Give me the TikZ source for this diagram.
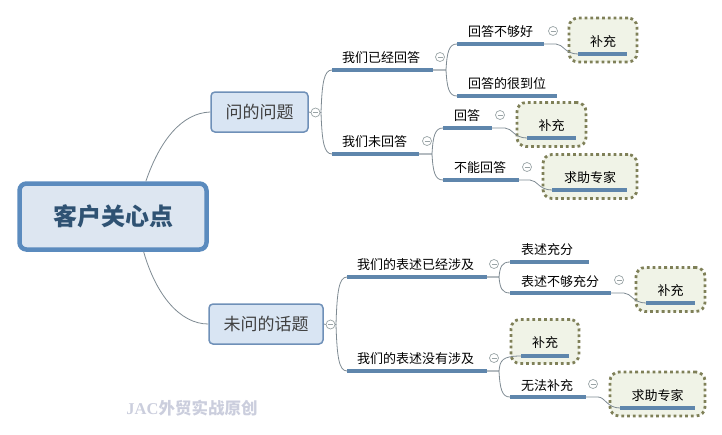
\documentclass[tikz,border=0pt]{standalone}
\usepackage{fontspec}
\setmainfont{Noto Sans CJK SC}
\newfontfamily\stampfont{Liberation Serif}
\usetikzlibrary{calc}
\definecolor{rootblue}{HTML}{5B8BBE}
\definecolor{rootfill}{HTML}{DDE6F1}
\definecolor{rootink}{HTML}{2F5273}
\definecolor{subblue}{HTML}{6F90B8}
\definecolor{subfill}{HTML}{D9E5F3}
\definecolor{barblue}{HTML}{5F86AC}
\definecolor{linkgray}{HTML}{7E8A92}
\definecolor{foldgray}{HTML}{9AA4A6}
\definecolor{noteolive}{HTML}{7F8058}
\definecolor{notefill}{HTML}{F0F3E7}
\definecolor{stampgray}{HTML}{CBCEDD}
\tikzset{
  % For the centre box.
  root/.style={
    draw=rootblue,
    fill=rootfill,
    line width=4.5pt,
    rounded corners=7pt,
    minimum width=187pt,
    minimum height=66pt,
    inner sep=0pt,
    text=rootink,
    text height=19pt,
    text depth=2pt,
    font=\fontsize{24}{28}\selectfont\bfseries},
%
  % For the two main questions.
  subject/.style={
    draw=subblue,
    fill=subfill,
    line width=1.5pt,
    rounded corners=4pt,
    minimum height=40pt,
    inner sep=0pt,
    text=black!75,
    font=\fontsize{17}{20}\selectfont},
%
  % For plain topic texts.
  topic/.style={
    anchor=west,
    yshift=-1pt,
    inner sep=0pt,
    font=\fontsize{13}{15}\selectfont},
%
  % For the thick line under a topic.
  bar/.style={
    fill=barblue,
    minimum width=#1,
    minimum height=3.2pt,
    inner sep=0pt,
    outer sep=0pt},
%
  % For floating topics.
  note/.style={
    draw=noteolive,
    fill=notefill,
    line width=2.8pt,
    dash pattern=on 2.8pt off 3pt,
    rounded corners=9pt,
    minimum height=44pt,
    inner sep=0pt,
    text height=14pt,
    text depth=1.5pt,
    font=\fontsize{13}{15}\selectfont},
%
  % For the collapse marks.
  fold/.style={
    draw=foldgray,
    fill=white,
    line width=0.7pt,
    circle,
    minimum size=9pt,
    inner sep=0pt,
    path picture={
      \draw[foldgray, line width=0.7pt]
        ($(path picture bounding box.west)+(2,0)$) --
        ($(path picture bounding box.east)+(-2,0)$);}},
%
  % For thin connectors.
  link/.style={
    draw=linkgray,
    line width=0.8pt},
%
  % Straight piece, then a fork towards the child.
  fork/.style={
    to path={
      let \p1=(\tikztostart), \p2=(\tikztotarget) in
      (\p1) -- (\x2-#1,\y1)
      .. controls (\x2-#1+1pt,0.3*\y1+0.7*\y2) and (\x2-#1+3pt,\y2)
      .. (\p2)}},
  fork/.default=11pt,
%
  % S curve from a topic to its floating topic.
  hook/.style={
    to path={
      let \p1=(\tikztostart), \p2=(\tikztotarget) in
      (\p1) -- (\x2-22pt,\y1)
      .. controls (\x2-15pt,\y1) and (\x2-13pt,\y2)
      .. (\p2)}},
}

\begin{document}
\begin{tikzpicture}[x=1pt, y=-1pt]
  \useasboundingbox (0,0) rectangle (722,434);

  % Floating boxes come first, the bars lie on them.
  \node[note, minimum width=68pt] (fill one) at (603,40) {补充};
  \node[note, minimum width=69pt] (fill two) at (551.5,124.5) {补充};
  \node[note, minimum width=94pt] (expert one) at (590,176.5) {求助专家};
  \node[note, minimum width=69pt] (fill three) at (670.5,289.5) {补充};
  \node[note, minimum width=68pt] (fill four) at (545,341.5) {补充};
  \node[note, minimum width=95pt] (expert two) at (657.5,394) {求助专家};

  \node[root] (root) at (113,216.5) {客户关心点};
  \node[subject, minimum width=97pt] (asked) at (259.5,112) {问的问题};
  \node[subject, minimum width=114pt] (unasked) at (266,324) {未问的话题};

  \node[fold] (asked fold) at (315.5,112.5) {};
  \node[fold] (unasked fold) at (330.5,324.5) {};

  \node[bar=101pt] (answered bar) at (382.5,70) {};
  \node[bar=87pt] (open bar) at (375.5,154) {};
  \node[bar=87pt] (weak bar) at (500.5,44) {};
  \node[bar=100pt] (good bar) at (507,96) {};
  \node[bar=49pt] (reply bar) at (467.5,128) {};
  \node[bar=76pt] (noreply bar) at (481,180) {};
  \node[bar=140pt] (covered bar) at (417,277) {};
  \node[bar=140pt] (uncovered bar) at (417,371) {};
  \node[bar=79pt] (full bar) at (549.5,262) {};
  \node[bar=101pt] (thin bar) at (560.5,293) {};
  \node[bar=76pt] (cannot bar) at (548,397) {};
  \node[bar=49pt] (fill one bar) at (602.5,54) {};
  \node[bar=49pt] (fill two bar) at (551.5,138) {};
  \node[bar=75pt] (expert one bar) at (589.5,190) {};
  \node[bar=49pt] (fill three bar) at (670.5,303) {};
  \node[bar=48pt] (fill four bar) at (545,356) {};
  \node[bar=75pt] (expert two bar) at (657.5,408) {};

  \node[topic] (answered) at (342,57) {我们已经回答};
  \node[topic] (open) at (342,141) {我们未回答};
  \node[topic] (weak) at (468,31) {回答不够好};
  \node[topic] (good) at (468,83) {回答的很到位};
  \node[topic] (reply) at (454,115) {回答};
  \node[topic] (noreply) at (454,167) {不能回答};
  \node[topic] (covered) at (357,264) {我们的表述已经涉及};
  \node[topic] (uncovered) at (357,358) {我们的表述没有涉及};
  \node[topic] (full) at (521,249) {表述充分};
  \node[topic] (thin) at (521,281) {表述不够充分};
  \node[topic] (cannot) at (521,385) {无法补充};

  \node[fold] (answered fold) at (440,57) {};
  \node[fold] (open fold) at (427,141) {};
  \node[fold] (weak fold) at (553,31) {};
  \node[fold] (reply fold) at (500,115) {};
  \node[fold] (noreply fold) at (527,167) {};
  \node[fold] (covered fold) at (494,264) {};
  \node[fold] (uncovered fold) at (494,358) {};
  \node[fold] (thin fold) at (619,280) {};
  \node[fold] (cannot fold) at (593,384) {};

  \draw[link] (root.47) .. controls (160,140) and (182,113) .. (asked.west);
  \draw[link] (root.-49) .. controls (156,295) and (180,324) .. (unasked.west);
  \draw[link] (asked.east) -- (asked fold.west);
  \draw[link] (unasked.east) -- (unasked fold.west);

  \draw[link] (asked fold.east) to[fork] (answered bar.west);
  \draw[link] (asked fold.east) to[fork] (open bar.west);
  \draw[link] (answered bar.east) to[fork] (weak bar.west);
  \draw[link] (answered bar.east) to[fork] (good bar.west);
  \draw[link] (open bar.east) to[fork] (reply bar.west);
  \draw[link] (open bar.east) to[fork] (noreply bar.west);
  \draw[link] (weak bar.east) to[hook] (fill one bar.west);
  \draw[link] (reply bar.east) to[hook] (fill two bar.west);
  \draw[link] (noreply bar.east) to[hook] (expert one bar.west);

  \draw[link] (unasked fold.east) to[fork] (covered bar.west);
  \draw[link] (unasked fold.east) to[fork] (uncovered bar.west);
  \draw[link] (covered bar.east) to[fork] (full bar.west);
  \draw[link] (covered bar.east) to[fork] (thin bar.west);
  \draw[link] (uncovered bar.east) to[fork=22pt] (fill four bar.west);
  \draw[link] (uncovered bar.east) to[fork] (cannot bar.west);
  \draw[link] (thin bar.east) to[hook] (fill three bar.west);
  \draw[link] (cannot bar.east) to[hook] (expert two bar.west);

  \node[text=stampgray, font=\fontsize{16.5}{18}\selectfont\bfseries]
    (stamp) at (192,408) {{\stampfont JAC}外贸实战原创};
\end{tikzpicture}
\end{document}
